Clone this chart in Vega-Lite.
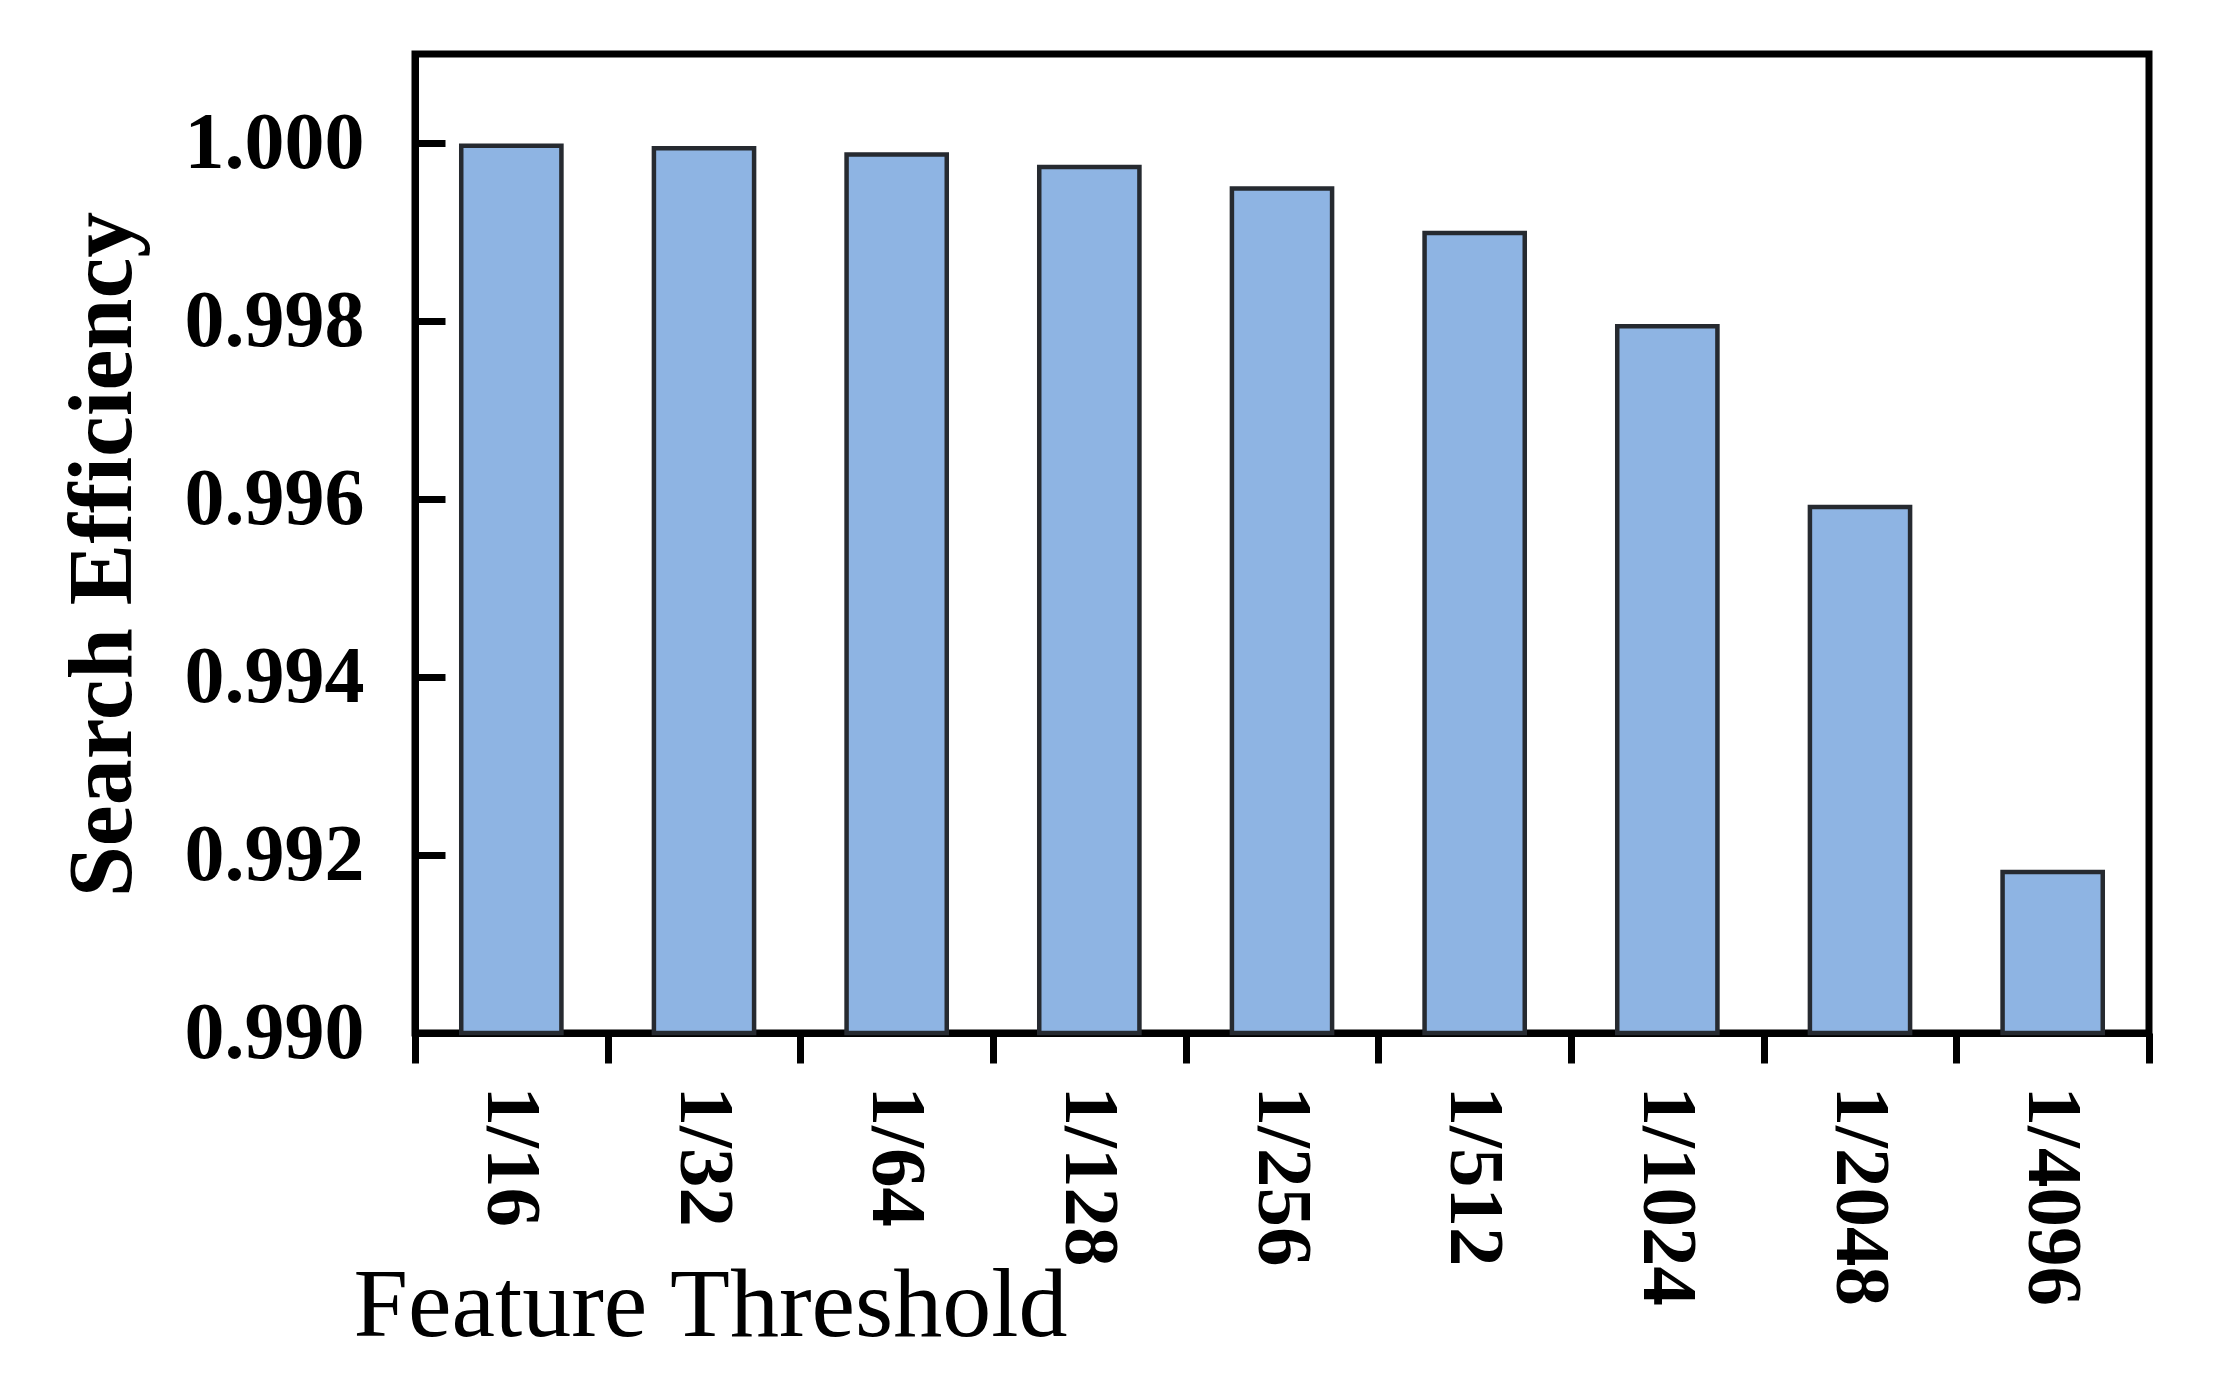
{
  "$schema": "https://vega.github.io/schema/vega-lite/v6.json",
  "autosize": {"type": "none"},
  "width": 1734,
  "height": 979,
  "padding": {"left": 415, "top": 54, "right": 65, "bottom": 351},
  "background": "white",
  "config": {
    "view": {"stroke": "black", "strokeWidth": 7},
    "axis": {"grid": false, "domainColor": "black", "tickColor": "black", "labelColor": "black", "titleColor": "black"}
  },
  "data": {
    "values": [
      {"threshold": "1/16", "efficiency": 0.99997},
      {"threshold": "1/32", "efficiency": 0.99994},
      {"threshold": "1/64", "efficiency": 0.99987},
      {"threshold": "1/128", "efficiency": 0.99973},
      {"threshold": "1/256", "efficiency": 0.99949},
      {"threshold": "1/512", "efficiency": 0.99899},
      {"threshold": "1/1024", "efficiency": 0.99794},
      {"threshold": "1/2048", "efficiency": 0.99591},
      {"threshold": "1/4096", "efficiency": 0.99181}
    ]
  },
  "mark": {"type": "bar", "fill": "#8EB4E3", "stroke": "#262a30", "strokeWidth": 4.5, "width": {"band": 0.52}},
  "encoding": {
    "x": {
      "field": "threshold",
      "type": "nominal",
      "sort": null,
      "scale": {"paddingInner": 0, "paddingOuter": 0},
      "axis": {
        "title": "Feature Threshold",
        "titleFont": "Liberation Serif",
        "titleFontSize": 98,
        "titleFontWeight": "normal",
        "titleAlign": "left",
        "titleBaseline": "alphabetic",
        "titleX": -62,
        "titleY": 302,
        "labelFont": "Liberation Serif",
        "labelFontSize": 79,
        "labelFontWeight": "bold",
        "labelAngle": 90,
        "labelAlign": "left",
        "labelBaseline": "middle",
        "labelPadding": 23,
        "labelLimit": 0,
        "tickBand": "extent",
        "tickSize": 30,
        "tickWidth": 7,
        "domainWidth": 7
      }
    },
    "y": {
      "field": "efficiency",
      "type": "quantitative",
      "scale": {"domain": [0.99, 1.001], "zero": false, "nice": false},
      "axis": {
        "title": "Search Efficiency",
        "titleFont": "Liberation Serif",
        "titleFontSize": 92,
        "titleFontWeight": "bold",
        "titleAngle": -90,
        "titleAlign": "center",
        "titleBaseline": "alphabetic",
        "titleX": -285,
        "titleY": 500,
        "values": [0.99, 0.992, 0.994, 0.996, 0.998, 1.0],
        "format": ".3f",
        "labelFont": "Liberation Serif",
        "labelFontSize": 80,
        "labelFontWeight": "bold",
        "labelPadding": 81,
        "labelLimit": 0,
        "tickSize": -30,
        "tickWidth": 7,
        "domainWidth": 7
      }
    },
    "y2": {"datum": 0.99}
  }
}
